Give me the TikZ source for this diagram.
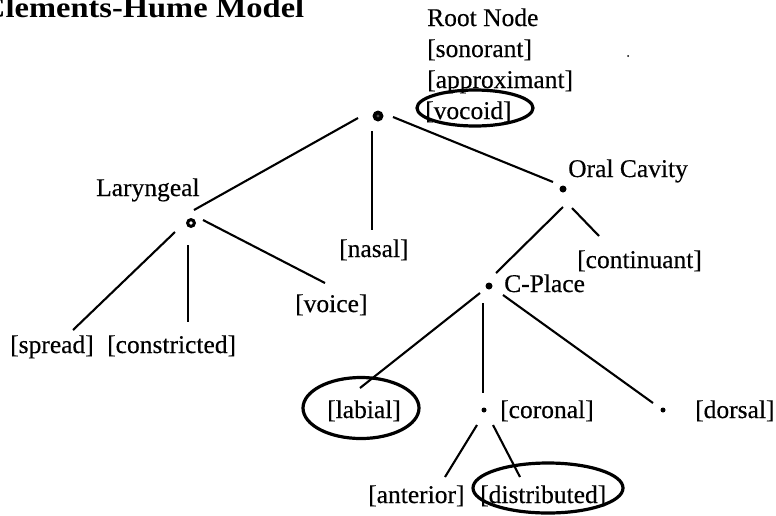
\documentclass[tikz,border=0pt]{standalone}
\usepackage{fontspec}
\setmainfont{Liberation Serif}
\newfontfamily\lblfont[FakeBold=0.35]{Liberation Serif}
\usetikzlibrary{calc,shapes.geometric}
\begin{document}
\begin{tikzpicture}[x=1pt,y=-1pt,
  lbl/.style={anchor=base west, inner sep=0pt, font=\lblfont\fontsize{25.5}{30}\selectfont},
  edge/.style={line width=2.1pt},
  bigdot/.style={circle, fill=black, inner sep=0pt, minimum size=11pt},
  middot/.style={circle, fill=black, inner sep=0pt, minimum size=7pt},
  smalldot/.style={circle, fill=black, inner sep=0pt, minimum size=5pt},
  ringmark/.style={draw, ellipse, line width=3.2pt, inner sep=0pt}
]
\fill[white] (0,0) rectangle (776,515);
\useasboundingbox (0,0) rectangle (776,515);

% title
\node[anchor=base west, inner sep=0pt, font=\bfseries\fontsize{29}{33}\selectfont] (title) at (-18,17) {\scalebox{1.12}[1]{Clements-Hume Model}};

% labels
\node[lbl] (rootlbl) at (427,26) {Root Node};
\node[lbl] (son) at (427,57) {[sonorant]};
\node[lbl] (appr) at (427,88) {[approximant]};
\node[lbl] (voc) at (425,119) {[vocoid]};
\node[lbl] (larlbl) at (96,196) {Laryngeal};
\node[lbl] (nasal) at (339,257) {[nasal]};
\node[lbl] (orallbl) at (568,177) {Oral Cavity};
\node[lbl] (cont) at (577,268) {[continuant]};
\node[lbl] (cpl) at (504,292) {C-Place};
\node[lbl] (voice) at (295,312) {[voice]};
\node[lbl] (spread) at (10,353) {[spread]};
\node[lbl] (constr) at (107,353) {[constricted]};
\node[lbl] (labial) at (327,418) {[labial]};
\node[lbl] (coronal) at (500,418) {[coronal]};
\node[lbl] (dorsal) at (695,418) {[dorsal]};
\node[lbl] (anterior) at (368,503) {[anterior]};
\node[lbl] (distr) at (480,503) {[distributed]};

% dots
\node[bigdot] (root) at (378,116) {};
\fill[gray!60!black] (root) circle (1.6pt);
\node[bigdot, minimum size=10pt] (lar) at (191,223) {};
\fill[white] (lar) circle (1.8pt);
\node[middot] (oral) at (563,189) {};
\node[middot] (cplace) at (489,286) {};
\node[smalldot] (cor) at (484,410) {};
\node[smalldot] (dor) at (663,410) {};
\node[circle, fill=black, inner sep=0pt, minimum size=2pt] (speck) at (628,56) {};

% rings
\node[ringmark, minimum width=116pt, minimum height=36pt] (vocring) at (475,108) {};
\node[ringmark, minimum width=116pt, minimum height=61pt] (labring) at (361,408) {};
\node[ringmark, minimum width=150pt, minimum height=50pt] (disring) at (548,488) {};

% edges
\draw[edge] ($(root)+(-20,2)$) -- ($(lar)+(3,-13)$);
\draw[edge] ($(root)+(-6,15)$) -- ($(nasal.base west)+(33,-27)$);
\draw[edge] ($(root)+(15,1)$) -- ($(oral)+(-10,-7)$);
\draw[edge] ($(lar)+(-16,9)$) -- ($(spread.base west)+(63,-23)$);
\draw[edge] ($(lar)+(-3,22)$) -- ($(constr.base west)+(81,-31)$);
\draw[edge] ($(lar)+(12,-3)$) -- ($(voice.base west)+(30,-29)$);
\draw[edge] ($(oral)+(0,18)$) -- ($(cplace)+(7,-13)$);
\draw[edge] ($(oral)+(9,19)$) -- ($(cont.base west)+(22,-32)$);
\draw[edge] ($(cplace)+(-9,7)$) -- ($(labial.base west)+(33,-30)$);
\draw[edge] ($(cplace)+(-6,17)$) -- ($(cor)+(-1,-17)$);
\draw[edge] ($(cplace)+(14,9)$) -- ($(dor)+(-10,-7)$);
\draw[edge] ($(cor)+(-7,15)$) -- ($(anterior.base west)+(77,-26)$);
\draw[edge] ($(cor)+(9,15)$) -- ($(distr.base west)+(40,-26)$);
\end{tikzpicture}
\end{document}
